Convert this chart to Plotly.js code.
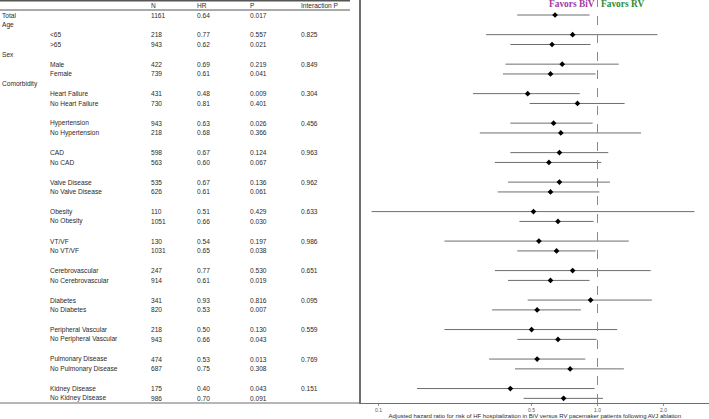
<!DOCTYPE html>
<html>
<head>
<meta charset="utf-8">
<script src="https://cdn.plot.ly/plotly-3.0.1.min.js"></script>
<style>html,body{margin:0;padding:0;background:#fff;}#chart{width:709px;height:419px;}</style>
</head>
<body>
<div id="chart"></div>
<script>
// ---- data ----
const labels = ['Total','Age','<65','>65','Sex','Male','Female','Comorbidity',
  'Heart Failure','No Heart Failure','',
  'Hypertension','No Hypertension','',
  'CAD','No CAD','',
  'Valve Disease','No Valve Disease','',
  'Obesity','No Obesity','',
  'VT/VF','No VT/VF','',
  'Cerebrovascular','No Cerebrovascular','',
  'Diabetes','No Diabetes','',
  'Peripheral Vascular','No Peripheral Vascular','',
  'Pulmonary Disease','No Pulmonary Disease','',
  'Kidney Disease','No Kidney Disease'];
const indent = [0,0,1,1,0,1,1,0, 1,1,0, 1,1,0, 1,1,0, 1,1,0, 1,1,0, 1,1,0, 1,1,0, 1,1,0, 1,1,0, 1,1,0, 1,1];
const nVals = ['1161','','218','943','','422','739','',
  '431','730','', '943','218','', '598','563','', '535','626','', '110','1051','',
  '130','1031','', '247','914','', '341','820','', '218','943','', '474','687','', '175','986'];
const hrText = ['0.64','','0.77','0.62','','0.69','0.61','',
  '0.48','0.81','', '0.63','0.68','', '0.67','0.60','', '0.67','0.61','', '0.51','0.66','',
  '0.54','0.65','', '0.77','0.61','', '0.93','0.53','', '0.50','0.66','', '0.53','0.75','', '0.40','0.70'];
const pVals = ['0.017','','0.557','0.021','','0.219','0.041','',
  '0.009','0.401','', '0.026','0.366','', '0.124','0.067','', '0.136','0.061','', '0.429','0.030','',
  '0.197','0.038','', '0.530','0.019','', '0.816','0.007','', '0.130','0.043','', '0.013','0.308','', '0.043','0.091'];
const interP = ['','','0.825','','','0.849','','',
  '0.304','','', '0.456','','', '0.963','','', '0.962','','', '0.633','','',
  '0.986','','', '0.651','','', '0.095','','', '0.559','','', '0.769','','', '0.151',''];
const ciLow = [0.43,null,0.31,0.40,null,0.38,0.37,null,
  0.27,0.49,null, 0.40,0.29,null, 0.40,0.34,null, 0.39,0.35,null, 0.093,0.44,null,
  0.20,0.43,null, 0.34,0.39,null, 0.48,0.33,null, 0.20,0.43,null, 0.32,0.42,null, 0.15,0.46];
const ciHigh = [0.92,null,1.88,0.93,null,1.25,0.98,null,
  0.83,1.33,null, 0.95,1.58,null, 1.12,1.04,null, 1.14,1.02,null, 2.77,0.96,null,
  1.39,0.98,null, 1.75,0.92,null, 1.77,0.84,null, 1.23,0.99,null, 0.88,1.32,null, 0.97,1.06];
const headers = ['N','HR','P','Interaction P'];
const xTicks = [0.1, 0.5, 1.0, 2.0];
const xTickText = ['0.1','0.5','1.0','2.0'];
const nullHR = 1;

// ---- build ----
const W = 709, H = 419;
const rows = labels.map((_, i) => i);
const px = v => v / W;
const colX = [150, 196, 249, 300];
const lvlX = [1, 49];
const tFont = {family: 'Liberation Sans, Arial, sans-serif', size: 6.6, color: '#2a2a2a'};

const ann = [];
function addText(x, y, t) {
  if (t === '' || t == null) return;
  ann.push({xref: 'paper', yref: 'y', x: px(x), y: y, text: t, showarrow: false,
    xanchor: 'left', yanchor: 'middle', font: tFont, borderpad: 0});
}
headers.forEach((h, j) => addText(colX[j], -1, h));
rows.forEach(i => {
  addText(lvlX[indent[i]], i, labels[i].replace('<', '&lt;').replace('>', '&gt;'));
  addText(colX[0], i, nVals[i]);
  addText(colX[1], i, hrText[i]);
  addText(colX[2], i, pVals[i]);
  addText(colX[3], i, interP[i]);
});
const favFont = {family: 'Liberation Serif, Times New Roman, serif', size: 9.4};
ann.push({xref: 'x', yref: 'y', x: Math.log10(nullHR), y: -1.1, text: '<b>Favors BiV</b>', showarrow: false,
  xanchor: 'right', yanchor: 'middle', xshift: -2, font: Object.assign({color: '#a23aa3'}, favFont), borderpad: 0});
ann.push({xref: 'x', yref: 'y', x: Math.log10(nullHR), y: -1.1, text: '<b>Favors RV</b>', showarrow: false,
  xanchor: 'left', yanchor: 'middle', xshift: 2, font: Object.assign({color: '#2f8a34'}, favFont), borderpad: 0});

const fx = [], fy = [], ep = [], em = [];
rows.forEach(i => {
  const hr = hrText[i] === '' ? null : parseFloat(hrText[i]);
  if (hr == null) return;
  fx.push(hr); fy.push(i);
  ep.push(ciHigh[i] - hr); em.push(hr - ciLow[i]);
});

const trace = {
  type: 'scatter', mode: 'markers', x: fx, y: fy,
  marker: {symbol: 'diamond', size: 4.4, color: '#000'},
  error_x: {type: 'data', symmetric: false, array: ep, arrayminus: em,
    color: '#6e6e6e', thickness: 1, width: 0},
  hoverinfo: 'skip', showlegend: false
};

const plotTop = 0, plotBot = 403;
const rowStep = 9.83, row0 = 15;
const yRange = [(plotBot - row0) / rowStep, (plotTop - row0) / rowStep];
const x0 = 360.5;
const xDomStart = x0 / W;
const logPerPx = 1 / 219;
const xRange = [Math.log10(nullHR) - (597.5 - x0) * logPerPx, Math.log10(nullHR) + (W - 597.5) * logPerPx];

const layout = {
  width: W, height: H,
  margin: {l: 0, r: 0, t: plotTop, b: H - plotBot, pad: 0},
  paper_bgcolor: '#fff', plot_bgcolor: '#fff',
  showlegend: false,
  xaxis: {type: 'log', domain: [xDomStart, 1], range: xRange,
    tickvals: xTicks, ticktext: xTickText, ticks: 'outside', ticklen: 2, tickwidth: 0.8, tickcolor: '#777',
    tickfont: {family: 'Liberation Sans, Arial, sans-serif', size: 5, color: '#555'},
    showgrid: false, zeroline: false, showline: true, linecolor: '#6e6e6e', linewidth: 1.2,
    title: {text: 'Adjusted hazard ratio for risk of HF hospitalization in BiV versus RV pacemaker patients following AVJ ablation',
      font: {family: 'Liberation Sans, Arial, sans-serif', size: 6, color: '#2a2a2a'}, standoff: 2}},
  yaxis: {range: yRange, showgrid: false, zeroline: false, showticklabels: false, ticks: '',
    showline: true, linecolor: '#6e6e6e', linewidth: 1.2},
  annotations: ann,
  shapes: [
    {type: 'line', xref: 'x', yref: 'paper', x0: nullHR, x1: nullHR, y0: 0, y1: 1,
      line: {color: '#8a8a8a', width: 1, dash: 'dash'}},
    {type: 'line', xref: 'paper', yref: 'paper', x0: 0, x1: xDomStart, y0: 0, y1: 0,
      line: {color: '#6e6e6e', width: 1.2}},
    {type: 'line', xref: 'paper', yref: 'paper', x0: 0, x1: px(350), y0: 1 - 0.8 / plotBot, y1: 1 - 0.8 / plotBot,
      line: {color: '#555', width: 1.5}},
    {type: 'line', xref: 'paper', yref: 'paper', x0: 0, x1: px(350), y0: 1 - 10 / plotBot, y1: 1 - 10 / plotBot,
      line: {color: '#555', width: 1}}
  ]
};

Plotly.newPlot('chart', [trace], layout, {staticPlot: true, displayModeBar: false});
</script>
</body>
</html>
